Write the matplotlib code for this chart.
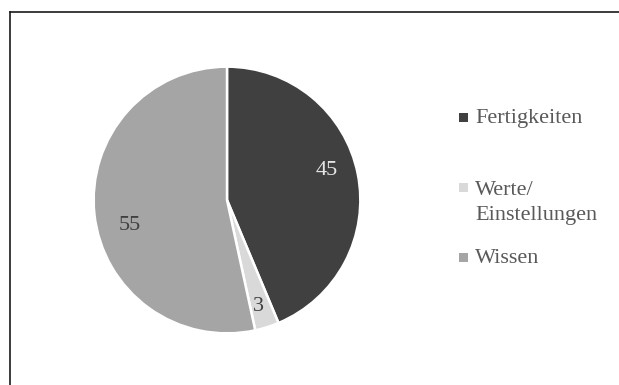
import matplotlib.pyplot as plt
from matplotlib.lines import Line2D
from matplotlib.patches import Rectangle
import numpy as np

# data
categories = ['Fertigkeiten', 'Werte/\nEinstellungen', 'Wissen']
values = [45, 3, 55]
colors = ['#404040', '#d9d9d9', '#a5a5a5']
label_colors = ['#e6e6e6', '#404040', '#404040']

# label placement tweaks (deg shift from wedge middle, radius)
label_shift = [5.3, -1.0, 8.4]
label_radius = [0.78, 0.83, 0.75]

plt.rcParams['font.family'] = ['Liberation Serif', 'DejaVu Serif']

W, H = 619, 385
fig = plt.figure(figsize=(W / 100, H / 100), dpi=100)

# pie
cx, cy, r = 227, 200, 134
ax = fig.add_axes([(cx - r) / W, (H - cy - r) / H, 2 * r / W, 2 * r / H])
wedges, _ = ax.pie(values, colors=colors, startangle=90, counterclock=False,
                   radius=1, wedgeprops=dict(edgecolor='white', linewidth=1.8))
ax.set_xlim(-1.005, 1.005)
ax.set_ylim(-1.005, 1.005)
ax.set_aspect('equal')
ax.axis('off')

for w, v, c, ds, rr in zip(wedges, values, label_colors, label_shift, label_radius):
    a = np.deg2rad((w.theta1 + w.theta2) / 2 + ds)
    ax.text(rr * np.cos(a), rr * np.sin(a), str(v), color=c,
            fontsize=16, ha='center', va='center')

# legend drawn by hand so the marker sits on the first text line
lx, base0, dy, line_px = 463.5, 123, 70, 27
for i, (lab, col) in enumerate(zip(categories, colors)):
    base = base0 + i * dy
    yc = base - 5.5
    fig.patches.append(Rectangle(((lx - 4.5) / W, (H - yc - 4.5) / H), 9 / W, 9 / H,
                                 transform=fig.transFigure, facecolor=col,
                                 edgecolor='none'))
    # baseline alignment of multi-line text refers to the last line
    last = base + lab.count('\n') * line_px
    fig.text(475 / W, (H - last) / H, lab, color='#595959',
             fontsize=16, ha='left', va='baseline', linespacing=1.45)

# frame lines (left and top only)
fig.add_artist(Line2D([9.5 / W, 9.5 / W], [0, (H - 11.5) / H], color='#1a1a1a',
                      lw=1.2, transform=fig.transFigure))
fig.add_artist(Line2D([9.5 / W, 1], [(H - 11.5) / H, (H - 11.5) / H],
                      color='#1a1a1a', lw=1.2, transform=fig.transFigure))

fig.savefig('out.png', dpi=100, facecolor='white')
